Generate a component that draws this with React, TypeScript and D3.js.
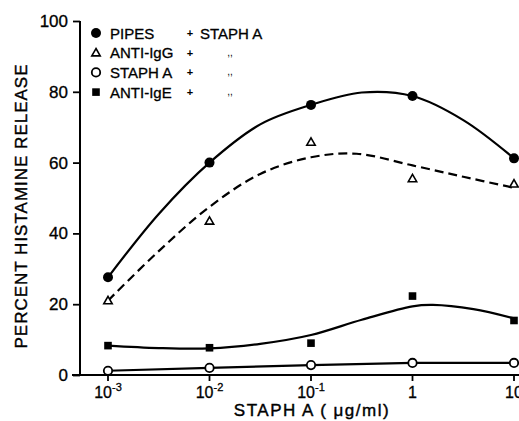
import { useEffect, useRef } from 'react'
import * as d3 from 'd3'

// doses of staph A (ug/ml)
const doses = [0.001, 0.01, 0.1, 1, 10]

// measured points (percent histamine release)
const pipes = [27.6, 60, 76.3, 78.8, 61.2]
const antiIgG = [21, 43.5, 65.8, 55.5, 54]
const staphA = [1.2, 2, 2.8, 3.4, 3.4]
const antiIgE = [8.3, 7.7, 9, 22.3, 15.4]

// hand-drawn fitted curves (log10 dose, value)
const pipesCurve: [number, number][] = [
  [-3, 27.6], [-2.5, 45.5], [-2, 60], [-1.5, 70.8], [-1, 76.3], [-0.5, 79.8], [0, 78.8], [0.5, 72], [1, 61.2],
]
const igGCurve: [number, number][] = [
  [-3, 21], [-2.5, 35], [-2, 47.5], [-1.5, 56.8], [-1, 61.5], [-0.55, 62.5], [0, 59.2], [0.5, 56], [0.98, 53],
]
const igECurve: [number, number][] = [
  [-3, 8.3], [-2.5, 7.6], [-2, 7.5], [-1.5, 8.8], [-1, 11.3], [-0.5, 15.6], [0, 19.4], [0.2, 19.8], [0.6, 18.6], [1, 16],
]

const yTicks = [0, 20, 40, 60, 80, 100]
const xTickExp = [-3, -2, -1, 0, 1]

const legendRows = [
  { marker: 'filledCircle', label: 'PIPES', plus: '+', tail: 'STAPH A' },
  { marker: 'triangle', label: 'ANTI-IgG', plus: '+', tail: ',,' },
  { marker: 'openCircle', label: 'STAPH A', plus: '+', tail: ',,' },
  { marker: 'square', label: 'ANTI-IgE', plus: '+', tail: ',,' },
]

const FONT = "'Liberation Sans', Arial, sans-serif"

const Chart = () => {
  const ref = useRef<SVGSVGElement | null>(null)

  useEffect(() => {
    const svg = d3.select(ref.current)
    svg.selectAll('*').remove()

    const x = d3.scaleLog().domain([0.001, 10]).range([108, 514])
    const y = d3.scaleLinear().domain([0, 100]).range([375, 21])
    const lx = (e: number) => x(Math.pow(10, e))

    const g = svg.append('g').attr('font-family', FONT).attr('fill', '#000')

    // axis lines
    g.append('line').attr('x1', 80).attr('x2', 80).attr('y1', y(100)).attr('y2', y(0) + 1)
      .attr('stroke', '#000').attr('stroke-width', 2)
    g.append('line').attr('x1', 72).attr('x2', 519).attr('y1', y(0)).attr('y2', y(0))
      .attr('stroke', '#000').attr('stroke-width', 2)

    // y ticks
    const yAxis = d3.axisLeft(y).tickValues(yTicks).tickSize(7).tickPadding(5).tickFormat(d3.format('d'))
    const ya = g.append('g').attr('transform', 'translate(80,0)').call(yAxis)
    ya.select('.domain').remove()
    ya.selectAll('line').attr('stroke-width', 1.8)
    ya.selectAll('text').attr('font-size', 17).attr('font-family', FONT).attr('fill', '#000')
      .attr('stroke', '#000').attr('stroke-width', 0.3)

    // x ticks
    xTickExp.forEach((e) => {
      const px = lx(e)
      g.append('line').attr('x1', px).attr('x2', px).attr('y1', y(0)).attr('y2', y(0) + 6)
        .attr('stroke', '#000').attr('stroke-width', 1.8)
      const t = g.append('text').attr('x', px).attr('y', 398).attr('text-anchor', 'middle').attr('font-size', 16)
        .attr('stroke', '#000').attr('stroke-width', 0.3)
      if (e < 0) {
        t.append('tspan').text('10')
        t.append('tspan').attr('dy', -7).attr('font-size', 11).text(`-${-e}`)
      } else {
        t.text(e === 0 ? '1' : '10')
      }
    })

    // axis titles
    g.append('text').attr('x', 312).attr('y', 416).attr('text-anchor', 'middle')
      .attr('font-size', 17).attr('letter-spacing', 1.5).attr('stroke', '#000').attr('stroke-width', 0.4)
      .text('STAPH A  ( μg/ml)')
    g.append('text').attr('transform', 'translate(27,206) rotate(-90)').attr('text-anchor', 'middle')
      .attr('font-size', 17).attr('letter-spacing', 1).attr('stroke', '#000').attr('stroke-width', 0.4)
      .text('PERCENT HISTAMINE RELEASE')

    // curves
    const line = d3.line<[number, number]>().x((d) => lx(d[0])).y((d) => y(d[1])).curve(d3.curveCatmullRom)
    g.append('path').datum(pipesCurve).attr('d', line).attr('fill', 'none').attr('stroke', '#000').attr('stroke-width', 2.2)
    g.append('path').datum(igGCurve).attr('d', line).attr('fill', 'none').attr('stroke', '#000')
      .attr('stroke-width', 2.2).attr('stroke-dasharray', '9,5')
    g.append('path').datum(igECurve).attr('d', line).attr('fill', 'none').attr('stroke', '#000').attr('stroke-width', 2.2)
    const straight = d3.line<number>().x((_, i) => x(doses[i])).y((d) => y(d))
    g.append('path').datum(staphA).attr('d', straight).attr('fill', 'none').attr('stroke', '#000').attr('stroke-width', 2.2)

    // markers
    const drawMarker = (sel: d3.Selection<SVGGElement, unknown, null, undefined>, kind: string, cx: number, cy: number) => {
      if (kind === 'filledCircle') {
        sel.append('circle').attr('cx', cx).attr('cy', cy).attr('r', 5).attr('fill', '#000')
      } else if (kind === 'openCircle') {
        sel.append('circle').attr('cx', cx).attr('cy', cy).attr('r', 4.2).attr('fill', '#fff')
          .attr('stroke', '#000').attr('stroke-width', 1.8)
      } else if (kind === 'triangle') {
        const s = 4.2
        sel.append('path').attr('d', `M${cx},${cy - s}L${cx + s},${cy + s * 0.75}L${cx - s},${cy + s * 0.75}Z`)
          .attr('fill', '#fff').attr('stroke', '#000').attr('stroke-width', 1.6)
      } else {
        sel.append('rect').attr('x', cx - 3.8).attr('y', cy - 3.8).attr('width', 7.6).attr('height', 7.6).attr('fill', '#000')
      }
    }
    const mg = g.append('g')
    doses.forEach((d, i) => {
      drawMarker(mg, 'filledCircle', x(d), y(pipes[i]))
      drawMarker(mg, 'triangle', x(d), y(antiIgG[i]))
      drawMarker(mg, 'openCircle', x(d), y(staphA[i]))
      drawMarker(mg, 'square', x(d), y(antiIgE[i]))
    })

    // legend
    const lg = g.append('g')
    legendRows.forEach((r, i) => {
      const cy = 33 + i * 19.7
      drawMarker(lg, r.marker, 96, cy)
      lg.append('text').attr('x', 110).attr('y', cy + 5.5).attr('font-size', 15)
        .attr('stroke', '#000').attr('stroke-width', 0.3).text(r.label)
      lg.append('text').attr('x', 190).attr('y', cy + 4).attr('font-size', 11).attr('font-weight', 'bold')
        .attr('text-anchor', 'middle').text(r.plus)
      if (r.tail === ',,') {
        lg.append('text').attr('x', 230).attr('y', cy + 3).attr('font-size', 10).attr('text-anchor', 'middle').text(r.tail)
      } else {
        lg.append('text').attr('x', 200).attr('y', cy + 5.5).attr('font-size', 15)
          .attr('stroke', '#000').attr('stroke-width', 0.3).text(r.tail)
      }
    })
  }, [])

  return <svg ref={ref} width={519} height={421} style={{ position: 'absolute', left: 0, top: 0, background: '#fff' }} />
}

export default function App() {
  return <Chart />
}
